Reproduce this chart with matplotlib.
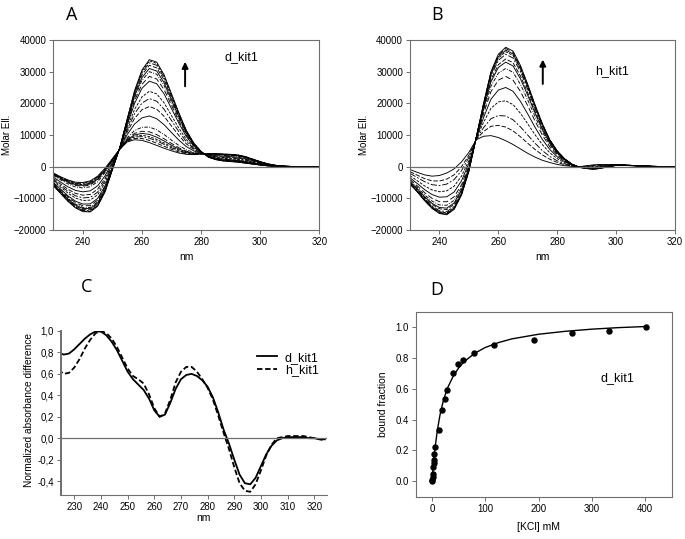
import matplotlib
matplotlib.use("Agg")
import matplotlib.pyplot as plt
import numpy as np

plt.rcParams['font.family'] = ['Liberation Sans', 'DejaVu Sans']

# ---- panels A/B: CD titration spectra (molar ellipticity) ----
wl = np.arange(230, 320.1, 2.5)

# d_kit1 spectrum without KCl and at the end of the titration
d_kit1_start = [-2000, -3200, -4200, -4900, -5000, -4500, -3000, -500, 2500, 5500,
                7800, 8500, 8300, 7600, 6700, 5800, 5000, 4300, 3900, 3800,
                4000, 4100, 4100, 4000, 3900, 3700, 3200, 2400, 1600, 900,
                450, 200, 80, 30, 0, 0, 0]
d_kit1_end = [-6000, -8500, -11000, -13000, -14200, -14300, -12500, -8000, -1000, 6000,
              15000, 24000, 30500, 33800, 33000, 29000, 23000, 17000, 11500, 7500,
              4800, 3000, 2200, 1800, 1600, 1400, 1100, 800, 500, 250,
              100, 40, 0, 0, 0, 0, 0]
# ellipticity at 262.5 nm of every titration step
d_kit1_peaks = [7600, 8300, 9000, 9500, 10200, 11000, 12500, 16000, 19000, 21500,
                23800, 27000, 28500, 30000, 31000, 32000, 32800, 33400, 33800]

h_kit1_start = [-900, -1800, -2600, -3000, -2800, -2000, -700, 1500, 4500, 8500,
                9600, 9800, 9200, 8200, 7000, 5600, 4200, 3000, 2000, 1300,
                700, 300, 100, 0, 300, 600, 700, 700, 600, 400,
                300, 200, 100, 50, 0, 0, 0]
h_kit1_end = [-5500, -8000, -10800, -13200, -14800, -15200, -13500, -9000, -1500, 9200,
              20000, 30000, 35500, 37700, 36500, 32000, 26000, 19500, 13500, 8500,
              5000, 2500, 800, -200, -600, -800, -500, 0, 400, 500,
              400, 300, 200, 100, 50, 0, 0]
h_kit1_peaks = [8200, 12500, 16000, 20800, 25000, 28500, 31000, 33000, 34000, 35500,
                36300, 36800, 37300, 37700]

# ---- panel C: normalized absorbance difference ----
nm_c = np.arange(224, 325, 2)
d_kit1_diff = [0.80, 0.78, 0.79, 0.83, 0.88, 0.93, 0.97, 0.995, 0.995, 0.96,
               0.90, 0.82, 0.72, 0.62, 0.55, 0.50, 0.45, 0.37, 0.26, 0.20,
               0.22, 0.33, 0.46, 0.55, 0.59, 0.60, 0.58, 0.54, 0.48, 0.38,
               0.24, 0.08, -0.05, -0.20, -0.34, -0.42, -0.43, -0.37, -0.26, -0.15,
               -0.07, -0.02, 0.0, 0.01, 0.01, 0.01, 0.01, 0.0, 0.0, -0.01,
               -0.01]
h_kit1_diff = [0.64, 0.60, 0.61, 0.66, 0.74, 0.84, 0.92, 0.98, 1.00, 0.98,
               0.93, 0.85, 0.75, 0.65, 0.58, 0.55, 0.51, 0.41, 0.28, 0.20,
               0.23, 0.36, 0.52, 0.62, 0.665, 0.665, 0.62, 0.55, 0.47, 0.36,
               0.21, 0.05, -0.10, -0.27, -0.42, -0.49, -0.50, -0.43, -0.30, -0.16,
               -0.06, 0.0, 0.01, 0.02, 0.02, 0.02, 0.02, 0.01, 0.0, -0.01,
               -0.02]

# ---- panel D: bound fraction vs [KCl] ----
kcl = [0, 0.5, 1, 1.5, 2, 3, 3.5, 4, 6.5, 14, 19, 24, 29, 39, 49, 59, 79, 117,
       191, 262, 333, 402]
bound = [0.0, 0.01, 0.03, 0.05, 0.09, 0.12, 0.14, 0.18, 0.22, 0.33, 0.46, 0.535,
         0.59, 0.70, 0.76, 0.79, 0.835, 0.883, 0.918, 0.963, 0.978, 1.0]
fit_kcl = [0, 2, 5, 10, 15, 20, 25, 30, 40, 50, 60, 80, 100, 125, 150, 200, 250,
           300, 350, 400]
fit_bound = [0.0, 0.09, 0.196, 0.33, 0.43, 0.505, 0.564, 0.612, 0.684, 0.736,
             0.776, 0.831, 0.869, 0.901, 0.925, 0.955, 0.974, 0.988, 0.998, 1.005]

GREY = '#6e6e6e'
TICK_FS = 6.9
STYLES = ['-', (0, (5, 2)), (0, (7, 2, 2, 2)), (0, (3, 1.5)), '-', (0, (6, 3)),
          (0, (4, 1.5, 1, 1.5))]


def style_axes(ax, spines=('left', 'bottom', 'top', 'right')):
    for s in ax.spines:
        ax.spines[s].set_visible(s in spines)
        ax.spines[s].set_color(GREY)
        ax.spines[s].set_linewidth(0.8)
    ax.tick_params(direction='out', length=3, width=0.7, color=GREY,
                   labelsize=TICK_FS, pad=2)


def spectra_panel(ax, start, end, peaks):
    """Draws the titration family between the first and last spectrum."""
    start = np.array(start, dtype=float)
    end = np.array(end, dtype=float)
    i0 = int(np.argmin(np.abs(wl - 262.5)))
    for k, h in enumerate(peaks):
        f = (h - start[i0]) / (end[i0] - start[i0])
        y = start + f * (end - start)
        ls = '-' if k in (0, len(peaks) - 1) else STYLES[k % len(STYLES)]
        ax.plot(wl, y, color='black', lw=0.65, ls=ls)
    ax.axhline(0, color=GREY, lw=0.9)
    ax.set_xlim(230, 320)
    ax.set_ylim(-20000, 40000)
    ax.set_xticks(range(240, 321, 20))
    ax.set_yticks(range(-20000, 40001, 10000))
    style_axes(ax)
    ax.set_ylabel('Molar Ell.', fontsize=7)
    ax.set_xlabel('nm', fontsize=7.5)
    ax.yaxis.set_label_coords(-0.155, 0.5)
    ax.xaxis.set_label_coords(0.5, -0.115)


fig = plt.figure(figsize=(6.85, 5.39), dpi=100)

axA = fig.add_axes([0.0778, 0.5733, 0.3883, 0.3525])
spectra_panel(axA, d_kit1_start, d_kit1_end, d_kit1_peaks)
axA.annotate('', xy=(274.6, 34000), xytext=(274.6, 24500),
             arrowprops=dict(arrowstyle='-|>', color='black', lw=1.4,
                             mutation_scale=9))
axA.text(288, 34700, 'd_kit1', fontsize=9, va='center')

axB = fig.add_axes([0.5985, 0.5733, 0.3869, 0.3525])
spectra_panel(axB, h_kit1_start, h_kit1_end, h_kit1_peaks)
axB.annotate('', xy=(275.1, 34700), xytext=(275.1, 25250),
             arrowprops=dict(arrowstyle='-|>', color='black', lw=1.4,
                             mutation_scale=9))
axB.text(292.8, 30200, 'h_kit1', fontsize=9, va='center')

# panel C
axC = fig.add_axes([0.0891, 0.0816, 0.3879, 0.3043])
axC.plot(nm_c, d_kit1_diff, color='black', lw=1.3, label='d_kit1')
axC.plot(nm_c, h_kit1_diff, color='black', lw=1.3, ls=(0, (3, 1.5)), label='h_kit1')
axC.axhline(0, color=GREY, lw=0.9)
axC.set_xlim(225, 324.7)
axC.set_ylim(-0.53, 1.0)
axC.set_xticks(range(230, 321, 10))
axC.set_yticks(np.arange(-0.4, 1.01, 0.2))
axC.set_yticklabels([f'{v:.1f}'.replace('.', ',') for v in np.arange(-0.4, 1.01, 0.2)])
style_axes(axC, spines=('left', 'bottom'))
axC.spines['left'].set_linewidth(1.4)
axC.set_ylabel('Normalized absorbance difference', fontsize=7.3)
axC.yaxis.set_label_coords(-0.1, 0.52)
axC.text(278.5, -0.70, 'nm', fontsize=7.5, ha='center', va='top')
axC.legend(loc='upper left', bbox_to_anchor=(0.72, 0.905), frameon=False,
           fontsize=9, handlelength=1.6, handletextpad=0.6, labelspacing=0.05,
           borderaxespad=0)

# panel D
axD = fig.add_axes([0.6073, 0.0786, 0.3735, 0.3427])
axD.plot(fit_kcl, fit_bound, color='black', lw=1.0)
axD.plot(kcl, bound, 'o', color='black', ms=3.6)
axD.set_xlim(-30, 450)
axD.set_ylim(-0.1, 1.1)
axD.set_xticks(range(0, 401, 100))
axD.set_yticks(np.arange(0, 1.01, 0.2))
axD.set_yticklabels([f'{v:.1f}' for v in np.arange(0, 1.01, 0.2)])
style_axes(axD)
axD.set_ylabel('bound fraction', fontsize=7.5)
axD.set_xlabel('[KCl] mM', fontsize=7.5)
axD.yaxis.set_label_coords(-0.11, 0.5)
axD.xaxis.set_label_coords(0.48, -0.14)
axD.text(316, 0.67, 'd_kit1', fontsize=9, va='center')

for letter, x, y in [('A', 71.7, 15), ('B', 436.7, 15), ('C', 87, 287), ('D', 436.7, 290)]:
    fig.text(x / 685, 1 - y / 539, letter, fontsize=13, ha='center', va='center',
             family=['Open Sans', 'DejaVu Sans'])

fig.savefig('out.png', dpi=100)
